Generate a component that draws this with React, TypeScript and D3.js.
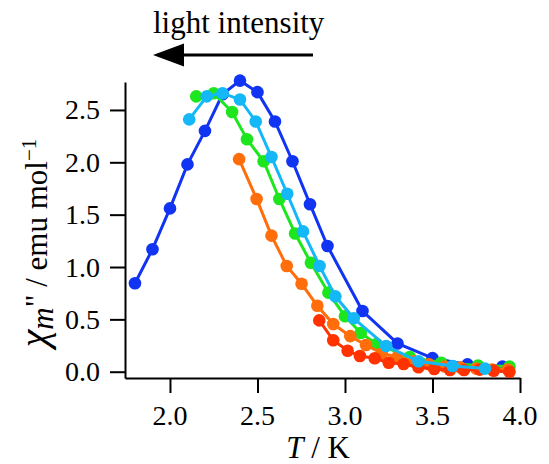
import React, { useEffect, useRef } from 'react';
import * as d3 from 'd3';

// temperature (K) and chi'' values
const blueT = [1.8, 1.9, 2.0, 2.1, 2.2, 2.3, 2.4, 2.5, 2.6, 2.7, 2.8, 2.9, 3.1, 3.3, 3.5, 3.7, 3.9];
const blueV = [0.845, 1.17, 1.56, 1.98, 2.3, 2.65, 2.78, 2.67, 2.39, 2.01, 1.6, 1.2, 0.58, 0.27, 0.13, 0.07, 0.05];

const greenT = [2.15, 2.25, 2.355, 2.44, 2.535, 2.625, 2.715, 2.805, 2.905, 3.0, 3.09, 3.18, 3.37, 3.55, 3.76, 3.94];
const greenV = [2.63, 2.66, 2.48, 2.22, 2.01, 1.65, 1.32, 1.04, 0.755, 0.53, 0.37, 0.265, 0.14, 0.085, 0.06, 0.05];

const orangeT = [2.395, 2.495, 2.58, 2.667, 2.752, 2.842, 2.933, 3.03, 3.12, 3.21, 3.3, 3.39, 3.48, 3.57, 3.66, 3.75, 3.84, 3.93];
const orangeV = [2.03, 1.65, 1.3, 1.01, 0.84, 0.63, 0.455, 0.34, 0.255, 0.175, 0.14, 0.1, 0.07, 0.05, 0.04, 0.03, 0.02, 0.02];

const redT = [2.853, 2.933, 3.015, 3.085, 3.17, 3.25, 3.335, 3.42, 3.51, 3.6, 3.68, 3.77, 3.85, 3.94];
const redV = [0.49, 0.3, 0.2, 0.15, 0.128, 0.086, 0.074, 0.042, 0.026, 0.016, 0.016, 0.02, 0.01, 0.0];

const cyanT = [2.11, 2.21, 2.3, 2.4, 2.49, 2.58, 2.67, 2.76, 2.855, 2.945, 3.05, 3.235, 3.42, 3.615, 3.8];
const cyanV = [2.41, 2.63, 2.66, 2.6, 2.39, 2.05, 1.7, 1.34, 1.01, 0.72, 0.51, 0.245, 0.1, 0.055, 0.03];

const xTicks = [2.0, 2.5, 3.0, 3.5, 4.0];
const yTicks = [0.0, 0.5, 1.0, 1.5, 2.0, 2.5];

const series = [
  { t: blueT, v: blueV, color: '#1034f2' },
  { t: greenT, v: greenV, color: '#1ee61e' },
  { t: orangeT, v: orangeV, color: '#ff6e0a' },
  { t: redT, v: redV, color: '#ff3200' },
  { t: cyanT, v: cyanV, color: '#14b8f6' },
];

const FONT = 'Liberation Serif, DejaVu Serif, serif';

const App = () => {
  const chartRef = useRef<HTMLDivElement>(null);

  useEffect(() => {
    const width = 549;
    const height = 464;

    d3.select(chartRef.current).select('svg').remove();

    const svg = d3.select(chartRef.current)
      .append('svg')
      .attr('width', width)
      .attr('height', height)
      .attr('font-family', FONT)
      .style('position', 'absolute')
      .style('left', '0px')
      .style('top', '0px')
      .style('background', 'white');

    const x = d3.scaleLinear().domain([1.743, 4.0]).range([125, 520]);
    const y = d3.scaleLinear().domain([-0.06, 2.767]).range([378, 82]);
    const fmt = d3.format('.1f');

    // axes (lines from d3, labels drawn as plain text below)
    const xAxis = svg.append('g')
      .attr('transform', 'translate(0,378)')
      .call(d3.axisBottom(x).tickValues(xTicks).tickSize(15).tickSizeOuter(0).tickFormat(() => ''));
    const yAxis = svg.append('g')
      .attr('transform', 'translate(125,0)')
      .call(d3.axisLeft(y).tickValues(yTicks).tickSize(15).tickSizeOuter(0).tickFormat(() => ''));

    [xAxis, yAxis].forEach(ax => {
      ax.select('.domain').attr('stroke', '#000').attr('stroke-width', 2);
      ax.selectAll('.tick line').attr('stroke', '#000').attr('stroke-width', 2);
    });

    svg.append('g')
      .selectAll('text')
      .data(xTicks)
      .enter()
      .append('text')
      .attr('x', d => x(d))
      .attr('y', 425)
      .attr('text-anchor', 'middle')
      .attr('font-size', 28)
      .attr('fill', '#000')
      .text(d => fmt(d));

    svg.append('g')
      .selectAll('text')
      .data(yTicks)
      .enter()
      .append('text')
      .attr('x', 100)
      .attr('y', d => y(d) + 9.5)
      .attr('text-anchor', 'end')
      .attr('font-size', 28)
      .attr('fill', '#000')
      .text(d => fmt(d));

    // lines and markers
    series.forEach(s => {
      const pts = s.t.map((t, i) => [t, s.v[i]] as [number, number]);
      svg.append('path')
        .attr('d', d3.line<[number, number]>().x(d => x(d[0])).y(d => y(d[1]))(pts))
        .attr('fill', 'none')
        .attr('stroke', s.color)
        .attr('stroke-width', 3);
      svg.selectAll(null)
        .data(pts)
        .enter()
        .append('circle')
        .attr('cx', d => x(d[0]))
        .attr('cy', d => y(d[1]))
        .attr('r', 6.3)
        .attr('fill', s.color);
    });

    // light intensity arrow
    svg.append('text')
      .attr('x', 153)
      .attr('y', 33)
      .attr('fill', '#000')
      .attr('font-size', 31)
      .text('light intensity');
    svg.append('line')
      .attr('x1', 180).attr('x2', 313)
      .attr('y1', 55).attr('y2', 55)
      .attr('stroke', '#000')
      .attr('stroke-width', 3);
    svg.append('path')
      .attr('d', 'M153,55 L184,43.5 L184,66.5 Z')
      .attr('fill', '#000');

    // x label
    const xl = svg.append('text')
      .attr('x', 318)
      .attr('y', 458)
      .attr('text-anchor', 'middle')
      .attr('fill', '#000')
      .attr('font-size', 31);
    xl.append('tspan').attr('font-style', 'italic').text('T');
    xl.append('tspan').text(' / K');

    // y label
    const yl = svg.append('text')
      .attr('transform', 'translate(47,243) rotate(-90)')
      .attr('text-anchor', 'middle')
      .attr('fill', '#000')
      .attr('font-size', 31);
    yl.append('tspan').attr('font-size', 40).attr('font-style', 'italic').text('χ');
    yl.append('tspan').attr('font-style', 'italic').attr('dy', 6).text('m');
    yl.append('tspan').attr('dy', -6).text('" / emu mol');
    yl.append('tspan').attr('font-size', 21).attr('dy', -11).text('−1');
  }, []);

  return (
    <div ref={chartRef}></div>
  );
};

export default App;
